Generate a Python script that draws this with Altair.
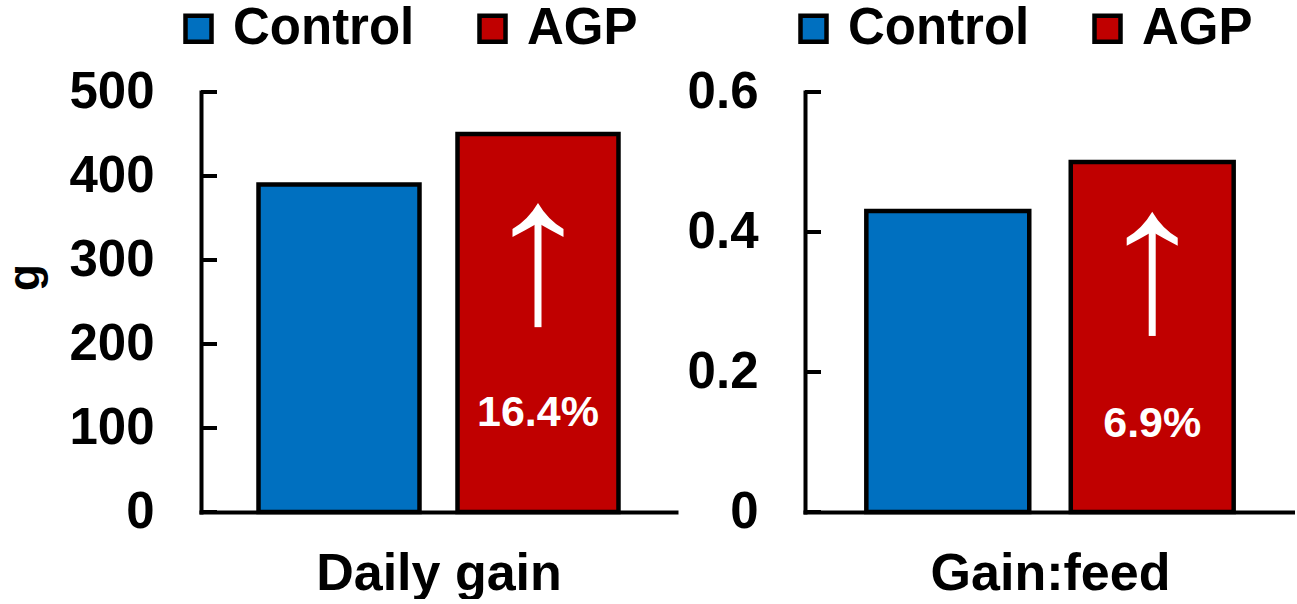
import altair as alt
import pandas as pd

# Treatment groups and their colours
groups = ["Control", "AGP"]
group_colors = ["#0070C0", "#C00000"]

# Panel values
daily_gain = [390, 450]          # g
gain_feed = [0.43, 0.50]
increase_labels = ["16.4%", "6.9%"]
panel_titles = ["Daily gain", "Gain:feed"]

# Axis tick values
gain_ticks = [0, 100, 200, 300, 400, 500]
ratio_ticks = [0, 0.2, 0.4, 0.6]

FONT = "Liberation Sans"

# Curved arrowhead, unit box [-1, 1]
HEAD = ("M0,-0.667 Q-0.39,0 -1,0.353 L-1,0.667 Q-0.47,0.39 0,0.118 "
        "Q0.47,0.39 1,0.667 L1,0.353 Q0.39,0 0,-0.667 Z")


def panel(values, label, title, ticks, tick_format, width, y_title, head_frac,
          tail_frac, text_frac, pad_inner, pad_outer, legend_x, legend_y):
    ymax = ticks[-1]
    bars = pd.DataFrame({"group": groups, "value": values})
    agp = values[1]
    notes = pd.DataFrame({
        "group": [groups[1]],
        "head": [agp * head_frac],
        "tail": [agp * tail_frac],
        "text_y": [agp * text_frac],
        "label": [label],
    })
    tick_df = pd.DataFrame({"tick": ticks})

    x_scale = alt.Scale(domain=groups, paddingInner=pad_inner, paddingOuter=pad_outer)
    y_scale = alt.Scale(domain=[0, ymax], nice=False, zero=True)

    x_enc = alt.X(
        "group:N", scale=x_scale, sort=groups,
        axis=alt.Axis(
            title=title, labels=False, ticks=False, domain=True,
            domainColor="black", domainWidth=4, domainCap="square",
            titleFont=FONT, titleFontSize=52, titleFontWeight="bold",
            titleColor="black", titlePadding=36,
        ),
    )
    y_axis = dict(
        values=ticks, grid=False, ticks=False, domain=True,
        domainColor="black", domainWidth=4, domainCap="square",
        labelFont=FONT, labelFontSize=51, labelFontWeight="bold",
        labelColor="black", labelPadding=47,
        labelExpr=f"datum.value == 0 ? '0' : format(datum.value, '{tick_format}')",
    )
    if y_title:
        y_axis.update(
            title=y_title, titleFont=FONT, titleFontSize=44,
            titleFontWeight="bold", titleColor="black",
            titleX=-176, titleY=185, titleAlign="center",
            titleBaseline="middle", titleAngle=-90,
        )
    else:
        y_axis.update(title=None)

    bar_layer = alt.Chart(bars).mark_bar(
        stroke="black", strokeWidth=4.5, opacity=1
    ).encode(
        x=x_enc,
        y=alt.Y("value:Q", scale=y_scale, axis=alt.Axis(**y_axis)),
        color=alt.Color(
            "group:N",
            scale=alt.Scale(domain=groups, range=group_colors),
            legend=alt.Legend(
                orient="none", legendX=legend_x, legendY=legend_y,
                direction="horizontal", title=None,
                symbolType="square", symbolSize=676,
                symbolStrokeColor="black", symbolStrokeWidth=4.5,
                symbolOpacity=1,
                labelFont=FONT, labelFontSize=51, labelFontWeight="bold",
                labelColor="black", labelOffset=9, labelLimit=500,
                columnPadding=52, padding=0,
            ),
        ),
    )

    # inward tick marks on the value axis
    tick_layer = alt.Chart(tick_df).mark_rule(
        color="black", strokeWidth=4
    ).encode(
        y=alt.Y("tick:Q", scale=y_scale, title=y_title),
        x=alt.value(0),
        x2=alt.value(16),
    )

    shaft = alt.Chart(notes).mark_rule(color="white", strokeWidth=7).encode(
        x=alt.X("group:N", scale=x_scale, sort=groups),
        y=alt.Y("tail:Q", scale=y_scale, title=y_title),
        y2="head:Q",
    )

    head = alt.Chart(notes).mark_point(
        shape=HEAD, size=2601, filled=True, color="white",
        opacity=1, strokeWidth=0,
    ).encode(
        x=alt.X("group:N", scale=x_scale, sort=groups),
        y=alt.Y("head:Q", scale=y_scale, title=y_title),
    )

    text = alt.Chart(notes).mark_text(
        color="white", font=FONT, fontSize=43, fontWeight="bold",
        baseline="alphabetic", align="center",
    ).encode(
        x=alt.X("group:N", scale=x_scale, sort=groups),
        y=alt.Y("text_y:Q", scale=y_scale, title=y_title),
        text="label:N",
    )

    return alt.layer(bar_layer, tick_layer, shaft, head, text).properties(
        width=width, height=420
    )


left = panel(daily_gain, increase_labels[0], panel_titles[0], gain_ticks, "d",
             475, "g", 0.7725, 0.489, 0.227, 0.191, 0.289, -28, -89)
right = panel(gain_feed, increase_labels[1], panel_titles[1], ratio_ticks, ".1f",
              490, None, 0.809, 0.503, 0.215, 0.203, 0.30, -17, -89)

chart = alt.hconcat(left, right, spacing=129, bounds="flush").resolve_scale(
    color="independent", x="independent", y="independent"
).properties(
    padding={"left": 3, "top": 3, "right": 0, "bottom": 0},
    background="white",
).configure_view(strokeWidth=0)

chart.save("out.html", embed_options={"renderer": "svg", "actions": False})
